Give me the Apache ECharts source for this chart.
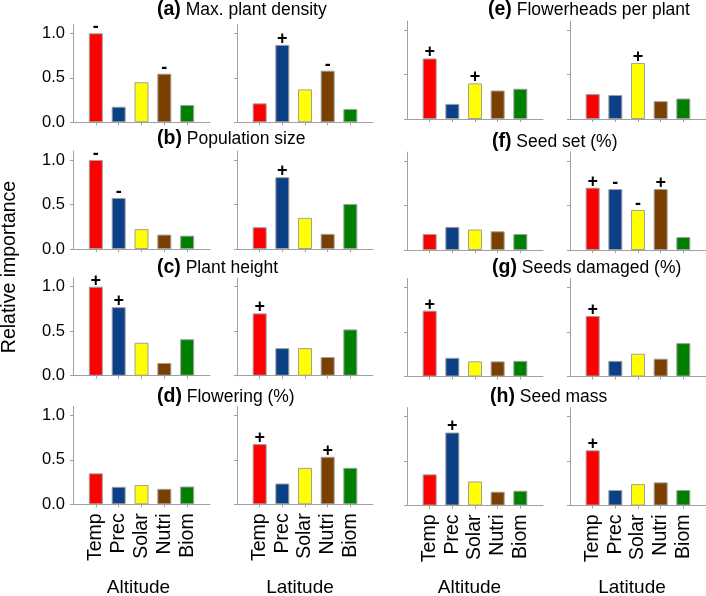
<!DOCTYPE html>
<html><head><meta charset="utf-8">
<script src="https://cdn.jsdelivr.net/npm/echarts@6/dist/echarts.min.js"></script>
<style>html,body{margin:0;padding:0;background:#fff}#c{width:706px;height:596px}</style>
</head><body><div id="c"></div>
<script>
// ---------- data ----------
const categories = ['Temp', 'Prec', 'Solar', 'Nutri', 'Biom'];
const yTicks = [0, 0.5, 1.0];
const columnNames = ['Altitude', 'Latitude', 'Altitude', 'Latitude'];

const aAlt = [1.0, 0.175, 0.45, 0.546, 0.195];
const aAltSign = ['-', '', '', '-', ''];
const aLat = [0.213, 0.87, 0.37, 0.58, 0.15];
const aLatSign = ['', '+', '', '-', ''];

const bAlt = [1.0, 0.574, 0.223, 0.162, 0.15];
const bAltSign = ['-', '-', '', '', ''];
const bLat = [0.245, 0.807, 0.35, 0.17, 0.506];
const bLatSign = ['', '+', '', '', ''];

const cAlt = [1.0, 0.77, 0.37, 0.143, 0.41];
const cAltSign = ['+', '+', '', '', ''];
const cLat = [0.70, 0.31, 0.31, 0.21, 0.52];
const cLatSign = ['+', '', '', '', ''];

const dAlt = [0.348, 0.197, 0.216, 0.174, 0.2];
const dAltSign = ['', '', '', '', ''];
const dLat = [0.677, 0.234, 0.41, 0.534, 0.41];
const dLatSign = ['+', '', '', '+', ''];

const eAlt = [0.68, 0.17, 0.40, 0.32, 0.34];
const eAltSign = ['+', '', '+', '', ''];
const eLat = [0.28, 0.27, 0.63, 0.2, 0.23];
const eLatSign = ['', '', '+', '', ''];

const fAlt = [0.18, 0.26, 0.23, 0.21, 0.18];
const fAltSign = ['', '', '', '', ''];
const fLat = [0.70, 0.685, 0.45, 0.685, 0.146];
const fLatSign = ['+', '-', '-', '+', ''];

const gAlt = [0.74, 0.21, 0.17, 0.17, 0.176];
const gAltSign = ['+', '', '', '', ''];
const gLat = [0.68, 0.176, 0.256, 0.20, 0.375];
const gLatSign = ['+', '', '', '', ''];

const hAlt = [0.35, 0.82, 0.27, 0.155, 0.166];
const hAltSign = ['', '+', '', '', ''];
const hLat = [0.62, 0.174, 0.24, 0.26, 0.174];
const hLatSign = ['+', '', '', '', ''];

const panelLetters = ['(a)', '(b)', '(c)', '(d)', '(e)', '(f)', '(g)', '(h)'];
const panelNames = ['Max. plant density', 'Population size', 'Plant height', 'Flowering (%)',
  'Flowerheads per plant', 'Seed set (%)', 'Seeds damaged (%)', 'Seed mass'];

// ---------- styles / layout ----------
const barColors = ['#ff0000', '#0b3f86', '#ffff00', '#7b3f00', '#008000'];
const FONT = 'Liberation Sans, Arial, sans-serif';
const AXIS_COLOR = '#a0a0a0';
const colLeft = [73, 237, 407, 570];
const colWidth = [137, 136, 136, 136];
const zeroLeft = [122.3, 249, 375.7, 504.3];
const zeroRight = [119, 250, 376.5, 505.5];
const UNIT = 89;
const YMAX = 1.1;

// panels: [row][col]
const panels = [
  [[aAlt, aAltSign], [aLat, aLatSign], [eAlt, eAltSign], [eLat, eLatSign]],
  [[bAlt, bAltSign], [bLat, bLatSign], [fAlt, fAltSign], [fLat, fLatSign]],
  [[cAlt, cAltSign], [cLat, cLatSign], [gAlt, gAltSign], [gLat, gLatSign]],
  [[dAlt, dAltSign], [dLat, dLatSign], [hAlt, hAltSign], [hLat, hLatSign]]
];

const grids = [], xAxes = [], yAxes = [], series = [];
let idx = 0;
for (let r = 0; r < 4; r++) {
  for (let c = 0; c < 4; c++) {
    const zero = c < 2 ? zeroLeft[r] : zeroRight[r];
    const h = YMAX * UNIT;
    grids.push({ left: colLeft[c], width: colWidth[c], top: zero - h, height: h, containLabel: false });
    xAxes.push({
      type: 'category', gridIndex: idx, boundaryGap: false,
      data: [''].concat(categories, ['']),
      axisLine: { show: true, lineStyle: { color: AXIS_COLOR, width: 1 } },
      axisTick: { show: true, length: 3, lineStyle: { color: AXIS_COLOR }, interval: (i) => i > 0 && i < 6 },
      axisLabel: { show: r === 3, interval: 0, rotate: 90, margin: 9, fontSize: 19.5, color: '#000', fontFamily: FONT },
      splitLine: { show: false }
    });
    yAxes.push({
      type: 'value', gridIndex: idx, min: 0, max: YMAX,
      axisLine: { show: true, lineStyle: { color: AXIS_COLOR, width: 1 } },
      axisTick: { show: true, length: 3, lineStyle: { color: AXIS_COLOR }, customValues: yTicks },
      axisLabel: { show: c === 0, customValues: yTicks, margin: 8, fontSize: 16.5, color: '#000', fontFamily: FONT,
        formatter: (v) => v.toFixed(1) },
      splitLine: { show: false }
    });
    const vals = panels[r][c][0], signs = panels[r][c][1];
    series.push({
      type: 'bar', xAxisIndex: idx, yAxisIndex: idx, barWidth: 14,
      itemStyle: { borderColor: AXIS_COLOR, borderWidth: 1 },
      label: { show: true, position: 'top', distance: -3, fontSize: 18, fontWeight: 'bold', color: '#000', fontFamily: FONT },
      data: ['-'].concat(vals.map((v, k) => ({
        value: v,
        itemStyle: { color: barColors[k] },
        label: { formatter: signs[k] }
      })), ['-']),
      animation: false, silent: true
    });
    idx++;
  }
}

const titleY = [10, 139, 268, 397];
const titleYRight = [10, 142, 268, 397];
const titleXLeft = 157, titleXRight = [488, 492, 492, 490];
const graphics = [];
for (let i = 0; i < 8; i++) {
  const r = i % 4, right = i >= 4;
  graphics.push({
    type: 'text',
    x: right ? titleXRight[r] : titleXLeft,
    y: right ? titleYRight[r] : titleY[r],
    style: {
      text: '{b|' + panelLetters[i] + '} {n|' + panelNames[i] + '}',
      verticalAlign: 'middle', fill: '#000', font: '17.5px ' + FONT,
      rich: { b: { fontWeight: 'bold', fontSize: 19.5, fontFamily: FONT, fill: '#000' },
              n: { fontSize: 17.5, fontFamily: FONT, fill: '#000' } }
    }
  });
}
const axisNameX = [138.5, 300, 469.5, 632];
for (let c = 0; c < 4; c++) {
  graphics.push({ type: 'text', x: axisNameX[c], y: 588,
    style: { text: columnNames[c], font: '19px ' + FONT, fill: '#000', align: 'center', verticalAlign: 'middle' } });
}
graphics.push({ type: 'text', x: 10, y: 267, rotation: Math.PI / 2,
  style: { text: 'Relative importance', font: '19.5px ' + FONT, fill: '#000', align: 'center', verticalAlign: 'middle' } });

const chart = echarts.init(document.getElementById('c'));
chart.setOption({
  animation: false,
  backgroundColor: '#fff',
  grid: grids, xAxis: xAxes, yAxis: yAxes, series: series,
  graphic: graphics
});
</script></body></html>
